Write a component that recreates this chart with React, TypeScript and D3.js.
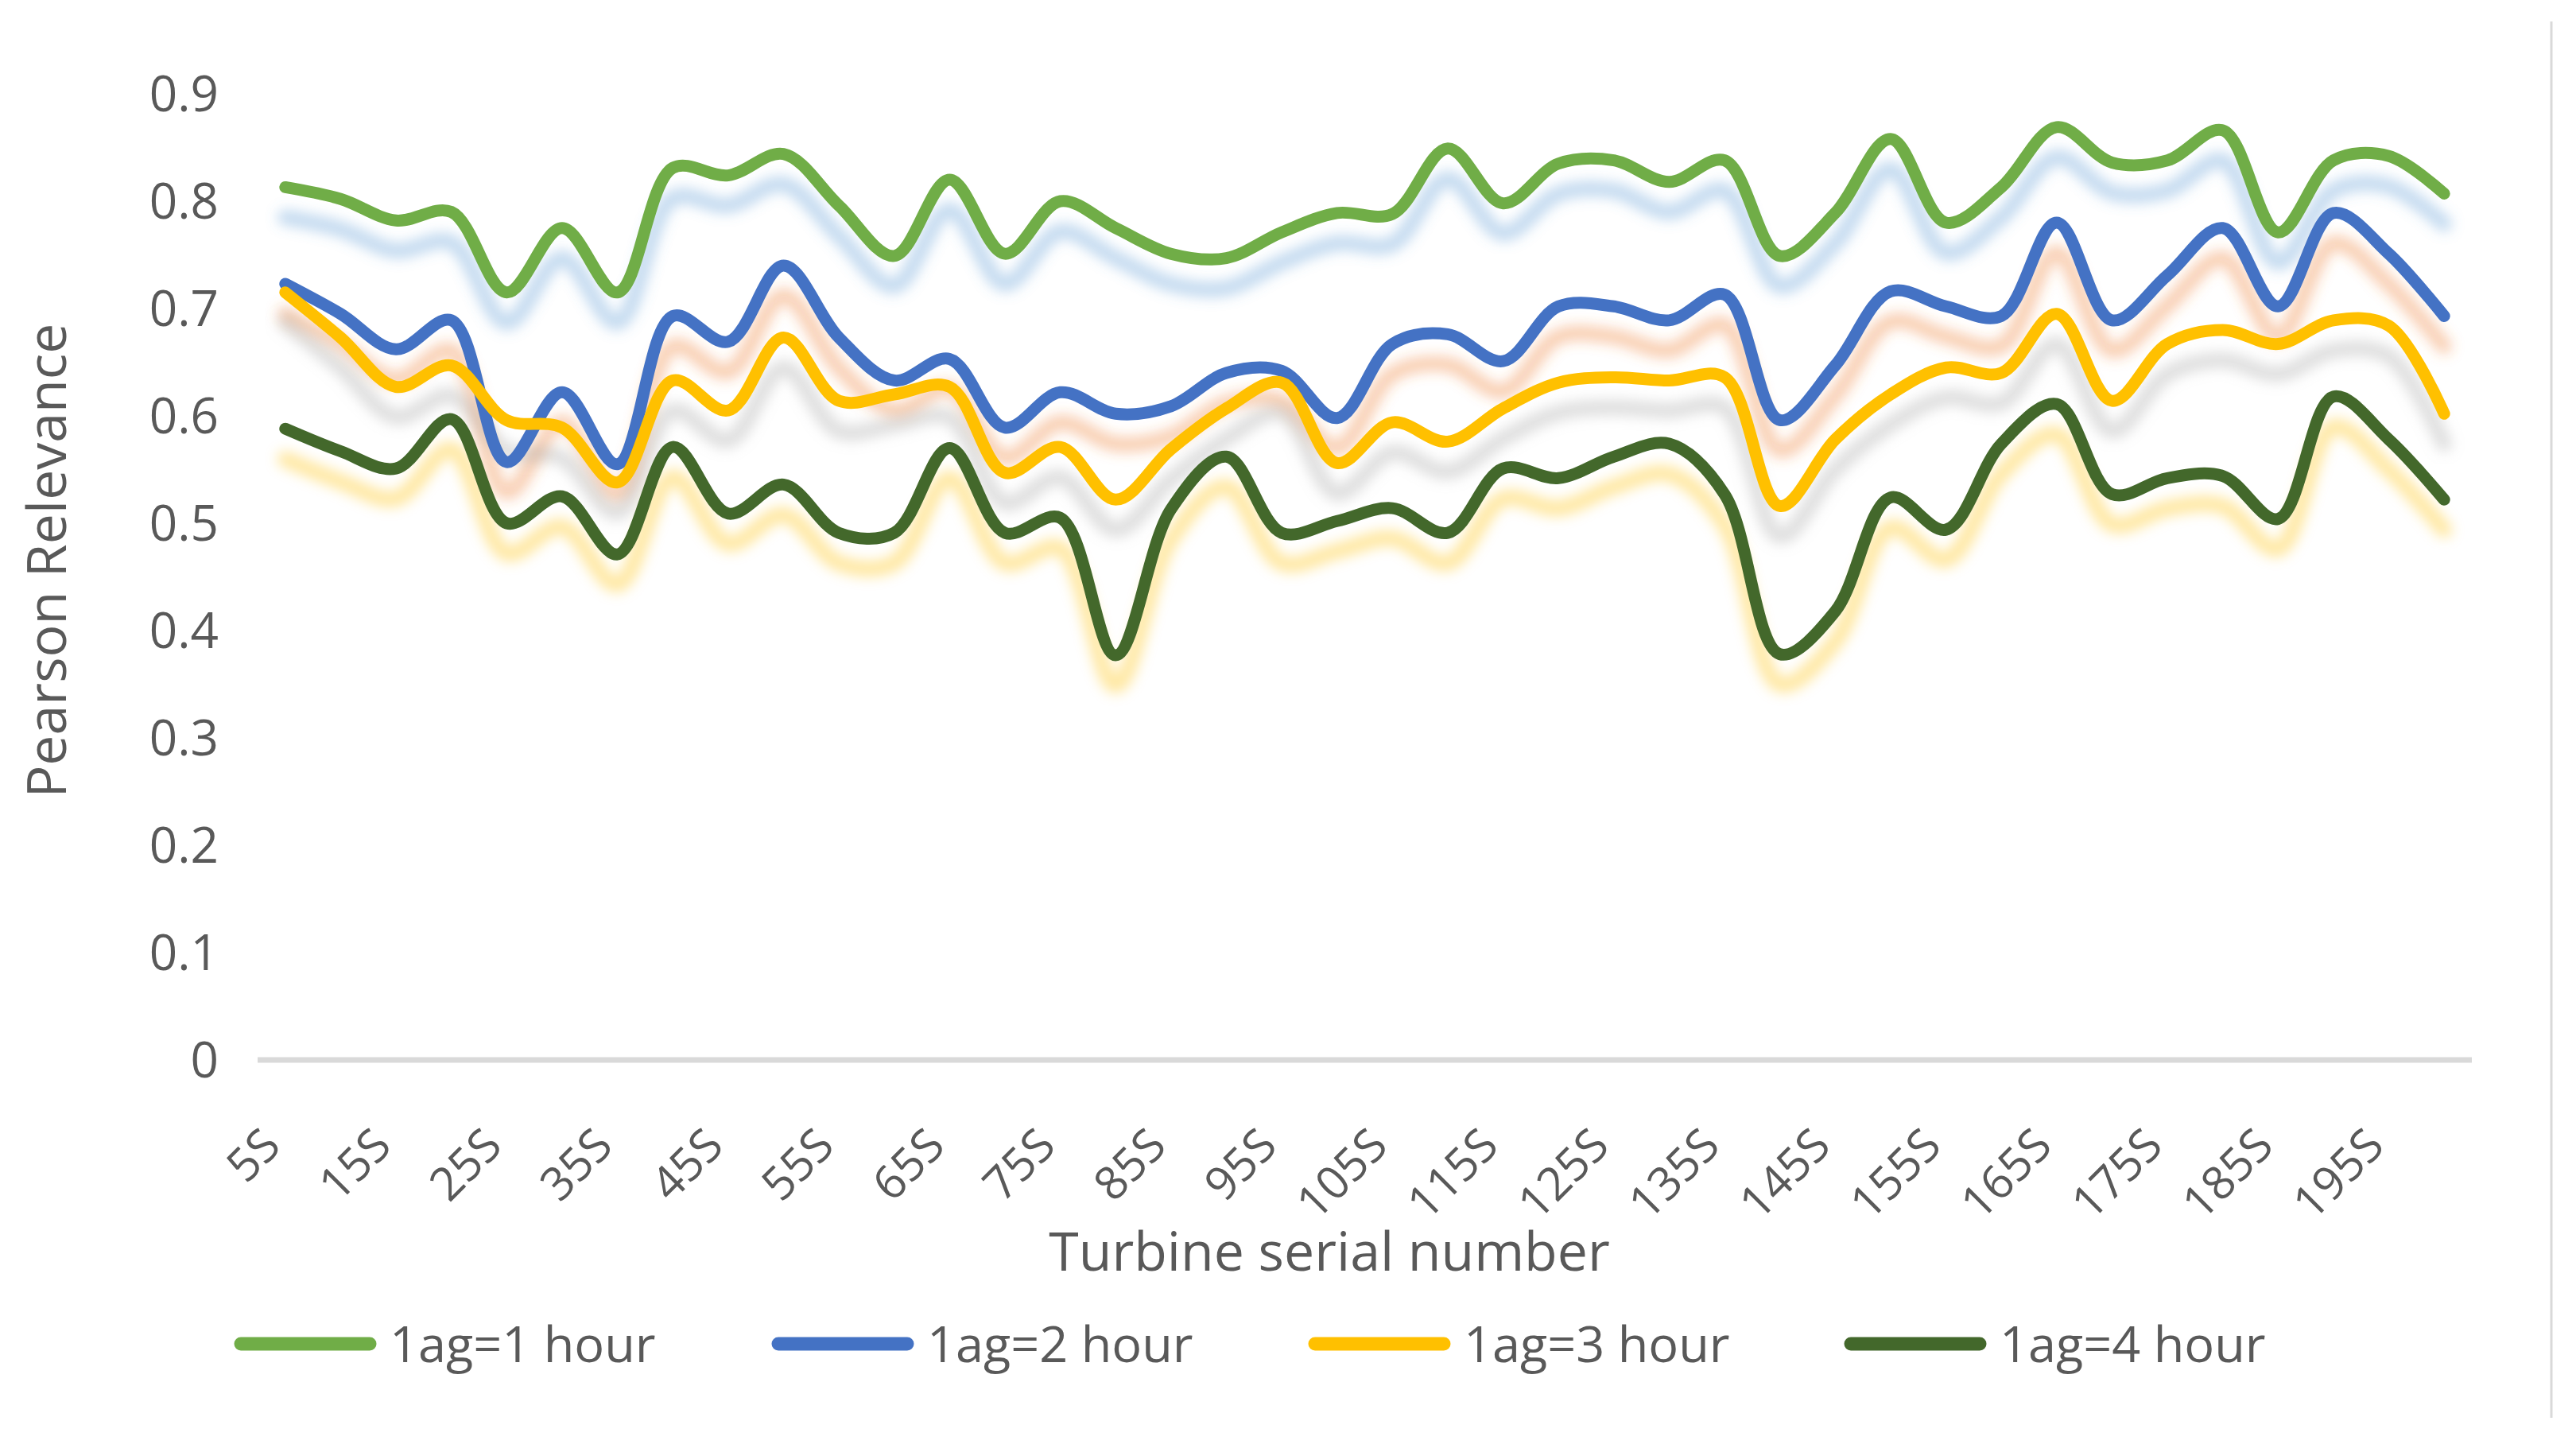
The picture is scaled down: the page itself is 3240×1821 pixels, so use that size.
import React, { useEffect, useRef } from 'react';
import * as d3 from 'd3';

const categories = [
  '5S', '10S', '15S', '20S', '25S', '30S', '35S', '40S', '45S', '50S',
  '55S', '60S', '65S', '70S', '75S', '80S', '85S', '90S', '95S', '100S',
  '105S', '110S', '115S', '120S', '125S', '130S', '135S', '140S', '145S', '150S',
  '155S', '160S', '165S', '170S', '175S', '180S', '185S', '190S', '195S', '200S',
];

const lag1 = [
  0.813, 0.802, 0.782, 0.790, 0.715, 0.775, 0.715, 0.831,
  0.824, 0.844, 0.796, 0.749, 0.820, 0.751, 0.800, 0.775,
  0.751, 0.747, 0.771, 0.789, 0.788, 0.849, 0.798, 0.835,
  0.838, 0.818, 0.838, 0.749, 0.789, 0.858, 0.780, 0.813,
  0.869, 0.836, 0.838, 0.866, 0.771, 0.838, 0.842, 0.807,
];
const lag2 = [
  0.723, 0.695, 0.662, 0.689, 0.557, 0.622, 0.555, 0.693,
  0.669, 0.740, 0.673, 0.633, 0.653, 0.589, 0.622, 0.602,
  0.609, 0.640, 0.642, 0.598, 0.667, 0.676, 0.651, 0.702,
  0.702, 0.689, 0.713, 0.596, 0.647, 0.716, 0.702, 0.693,
  0.780, 0.689, 0.731, 0.775, 0.702, 0.789, 0.751, 0.693,
];
const lag3 = [
  0.715, 0.673, 0.627, 0.647, 0.596, 0.589, 0.538, 0.633,
  0.605, 0.673, 0.614, 0.620, 0.627, 0.547, 0.571, 0.522,
  0.569, 0.607, 0.631, 0.556, 0.594, 0.576, 0.607, 0.631,
  0.636, 0.633, 0.636, 0.516, 0.578, 0.620, 0.645, 0.640,
  0.695, 0.614, 0.667, 0.680, 0.667, 0.689, 0.684, 0.602,
];
const lag4 = [
  0.588, 0.567, 0.551, 0.597, 0.500, 0.525, 0.471, 0.571,
  0.509, 0.536, 0.491, 0.491, 0.570, 0.491, 0.505, 0.377,
  0.513, 0.562, 0.491, 0.502, 0.514, 0.491, 0.551, 0.542,
  0.562, 0.574, 0.527, 0.378, 0.418, 0.524, 0.494, 0.574,
  0.611, 0.527, 0.542, 0.544, 0.504, 0.618, 0.578, 0.522,
];

const seriesNames = ['1ag=1 hour', '1ag=2 hour', '1ag=3 hour', '1ag=4 hour'];
const seriesValues = [lag1, lag2, lag3, lag4];
const seriesColors = ['#70AD47', '#4472C4', '#FFC000', '#43682B'];
const shadowColors = ['#5B9BD5', '#ED7D31', '#A5A5A5', '#FFC000'];
const yTicks = [0, 0.1, 0.2, 0.3, 0.4, 0.5, 0.6, 0.7, 0.8, 0.9];

const W = 3240;
const H = 1821;
const FONT = '"Open Sans", "Liberation Sans", sans-serif';
const TEXT = '#595959';

export default function App() {
  const ref = useRef<SVGSVGElement>(null);

  useEffect(() => {
    const svg = d3.select(ref.current);
    svg.selectAll('*').remove();

    const x = d3.scaleBand<string>().domain(categories).range([324, 3109]).padding(0);
    const cx = (c: string) => (x(c) as number) + x.bandwidth() / 2;
    const y = d3.scaleLinear().domain([0, 0.9]).range([1333, 118]);

    const defs = svg.append('defs');
    defs.append('filter')
      .attr('id', 'blur')
      .attr('x', '-10%').attr('y', '-50%').attr('width', '120%').attr('height', '200%')
      .append('feGaussianBlur').attr('stdDeviation', 8);

    svg.append('rect').attr('width', W).attr('height', H).attr('fill', '#fff');

    // right border
    svg.append('line')
      .attr('x1', 3209).attr('x2', 3209).attr('y1', 27).attr('y2', 1783)
      .attr('stroke', '#d9d9d9').attr('stroke-width', 3);

    // y tick labels
    svg.append('g').selectAll('text').data(yTicks).join('text')
      .attr('x', 275).attr('y', (d) => y(d)).attr('dy', '0.36em')
      .attr('text-anchor', 'end').attr('font-family', FONT).attr('font-size', 62)
      .attr('fill', TEXT).text((d) => (d === 0 ? '0' : d3.format('.1f')(d)));

    // x axis line
    svg.append('line')
      .attr('x1', 324).attr('x2', 3109).attr('y1', y(0)).attr('y2', y(0))
      .attr('stroke', '#d9d9d9').attr('stroke-width', 7);

    // x tick labels
    svg.append('g').selectAll('text')
      .data(categories.filter((_, i) => i % 2 === 0)).join('text')
      .attr('transform', (d) => `translate(${cx(d) - 3},1444) rotate(-45)`)
      .attr('text-anchor', 'end').attr('font-family', FONT).attr('font-size', 58)
      .attr('fill', TEXT).text((d) => d);

    // axis titles
    svg.append('text')
      .attr('x', 1672).attr('y', 1598).attr('text-anchor', 'middle')
      .attr('font-family', FONT).attr('font-size', 68).attr('fill', TEXT)
      .text('Turbine serial number');
    svg.append('text')
      .attr('transform', 'translate(83,705) rotate(-90)').attr('text-anchor', 'middle')
      .attr('font-family', FONT).attr('font-size', 68).attr('fill', TEXT)
      .text('Pearson Relevance');

    const line = d3.line<number>()
      .x((_, i) => cx(categories[i]))
      .y((d) => y(d))
      .curve(d3.curveCatmullRom.alpha(0.5));

    // shadows
    const sh = svg.append('g').attr('transform', 'translate(0,38)');
    seriesValues.forEach((vals, k) => {
      sh.append('path').attr('d', line(vals) as string)
        .attr('fill', 'none').attr('stroke', shadowColors[k])
        .attr('stroke-opacity', 0.36).attr('stroke-width', 20)
        .attr('stroke-linecap', 'round').attr('stroke-linejoin', 'round')
        .attr('filter', 'url(#blur)');
    });

    // lines
    seriesValues.forEach((vals, k) => {
      svg.append('path').attr('d', line(vals) as string)
        .attr('fill', 'none').attr('stroke', seriesColors[k])
        .attr('stroke-width', 15)
        .attr('stroke-linecap', 'round').attr('stroke-linejoin', 'round');
    });

    // legend
    const legendX = [295, 971, 1646, 2320];
    const lg = svg.append('g');
    seriesNames.forEach((name, k) => {
      const x0 = legendX[k];
      lg.append('line')
        .attr('x1', x0 + 8).attr('x2', x0 + 170).attr('y1', 1690).attr('y2', 1690)
        .attr('stroke', seriesColors[k]).attr('stroke-width', 17).attr('stroke-linecap', 'round');
      lg.append('text')
        .attr('x', x0 + 195).attr('y', 1713)
        .attr('font-family', FONT).attr('font-size', 63).attr('fill', TEXT)
        .text(name);
    });
  }, []);

  return (
    <svg
      ref={ref}
      width={W}
      height={H}
      style={{ position: 'absolute', left: 0, top: 0, display: 'block' }}
    />
  );
}
